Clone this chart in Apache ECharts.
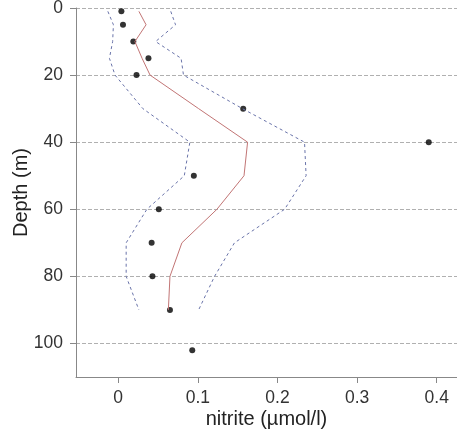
<!DOCTYPE html>
<html>
<head>
<meta charset="utf-8">
<script src="https://cdn.jsdelivr.net/npm/echarts@6/dist/echarts.min.js"></script>
<style>
  html, body { margin: 0; padding: 0; background: #fff; }
  #chart { width: 457px; height: 437px; }
</style>
</head>
<body>
<div id="chart"></div>
<script>
// observed samples
var depthPts = [1, 5, 10, 15, 20, 30, 40, 50, 60, 70, 80, 90, 102]
var nitritePts = [0.004, 0.006, 0.019, 0.038, 0.023, 0.157, 0.39, 0.095, 0.051, 0.042, 0.043, 0.065, 0.093]

// fitted profile and its bounds
var depthFit = [1, 5, 10, 15, 20, 30, 40, 50, 60, 70, 80, 90]
var fitMean = [0.026, 0.035, 0.021, 0.030, 0.040, 0.101, 0.1625, 0.158, 0.124, 0.080, 0.065, 0.063]
var fitLower = [-0.013, -0.006, -0.007, -0.011, -0.004, 0.031, 0.090, 0.083, 0.036, 0.010, 0.010, 0.026]
var fitUpper = [0.066, 0.072, 0.047, 0.079, 0.082, 0.156, 0.234, 0.236, 0.209, 0.146, 0.121, 0.101]

var xTicks = [0, 0.1, 0.2, 0.3, 0.4]
var yTicks = [0, 20, 40, 60, 80, 100]

function pairs(xs, ys) {
  return xs.map(function (x, i) { return [x, ys[i]] })
}

var font = 'Liberation Sans, Arial, sans-serif'
var chart = echarts.init(document.getElementById('chart'))

chart.setOption({
  animation: false,
  backgroundColor: '#fff',
  grid: { left: 76, top: 8, right: 0, bottom: 60, outerBoundsMode: 'none', containLabel: false },
  xAxis: {
    type: 'value',
    min: -0.053,
    max: 0.4255,
    name: 'nitrite (µmol/l)',
    nameLocation: 'middle',
    nameGap: 32,
    nameMoveOverlap: false,
    nameTextStyle: { color: '#222', fontSize: 20, fontFamily: font },
    axisLine: { show: true, onZero: false, lineStyle: { color: '#888' } },
    axisTick: { show: true, length: 6, customValues: xTicks, lineStyle: { color: '#888' } },
    axisLabel: { customValues: xTicks, color: '#333', fontSize: 17.5, fontFamily: font, margin: 12 },
    splitLine: { show: false }
  },
  yAxis: {
    type: 'value',
    inverse: true,
    min: 0,
    max: 110,
    interval: 20,
    name: 'Depth (m)',
    nameLocation: 'middle',
    nameGap: 45,
    nameMoveOverlap: false,
    nameTextStyle: { color: '#222', fontSize: 20, fontFamily: font },
    axisLine: { show: true, onZero: false, lineStyle: { color: '#888' } },
    axisTick: { show: true, length: 6, customValues: yTicks, lineStyle: { color: '#888' } },
    axisLabel: { customValues: yTicks, color: '#333', fontSize: 17.5, fontFamily: font, margin: 13 },
    splitLine: { show: true, lineStyle: { color: '#b0b0b0', type: [4, 2], width: 1 } }
  },
  series: [
    {
      name: 'lower',
      type: 'line',
      data: pairs(fitLower, depthFit),
      symbol: 'none',
      lineStyle: { color: '#6a74aa', width: 1, type: [3, 3] }
    },
    {
      name: 'upper',
      type: 'line',
      data: pairs(fitUpper, depthFit),
      symbol: 'none',
      lineStyle: { color: '#6a74aa', width: 1, type: [3, 3] }
    },
    {
      name: 'fit',
      type: 'line',
      data: pairs(fitMean, depthFit),
      symbol: 'none',
      lineStyle: { color: '#c27575', width: 1 }
    },
    {
      name: 'obs',
      type: 'scatter',
      data: pairs(nitritePts, depthPts),
      symbolSize: 6,
      itemStyle: { color: '#000' }
    }
  ]
})
</script>
</body>
</html>
